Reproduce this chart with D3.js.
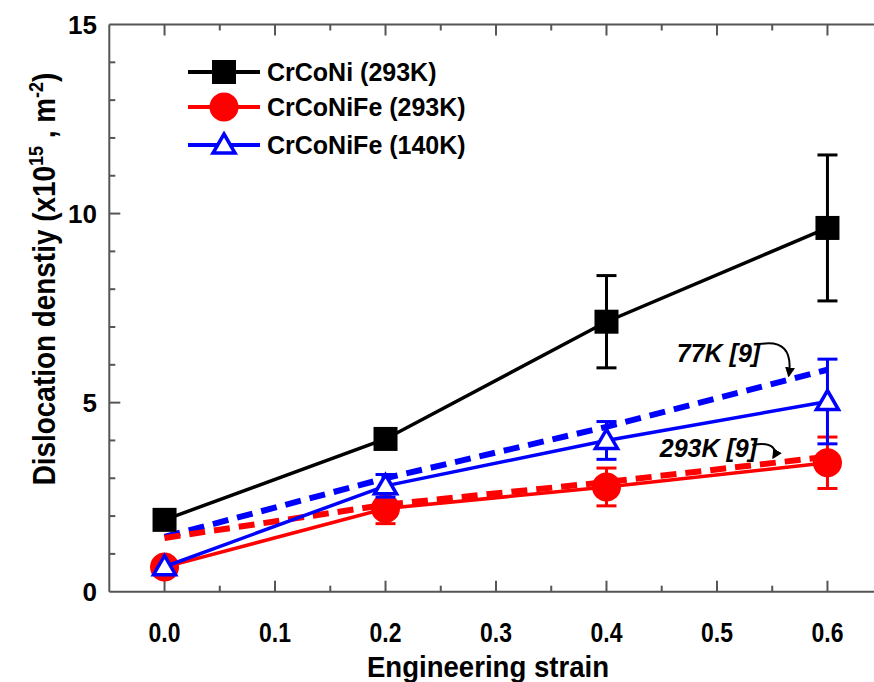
<!DOCTYPE html>
<html>
<head>
<meta charset="utf-8">
<script src="https://cdn.jsdelivr.net/npm/d3@7"></script>
<style>
  body { margin: 0; background: #fff; }
  text { font-family: "Liberation Sans", Arial, sans-serif; font-weight: bold; }
</style>
</head>
<body>
<svg id="chart"></svg>
<script>
// strain levels
const strains = [0.0, 0.2, 0.4, 0.6];

// measured dislocation density (x10^15 m^-2) with error bars
const crconi293 = [1.9, 4.04, 7.14, 9.62];
const crconi293Err = [0, 0, 1.22, 1.93];
const crconife293 = [0.65, 2.2, 2.77, 3.41];
const crconife293Err = [0, 0.4, 0.5, 0.68];
const crconife140 = [0.66, 2.8, 4.0, 5.03];
const crconife140Err = [0, 0.3, 0.5, 1.12];

// literature curves [9]
const ref77K = [1.45, 3.0, 4.36, 5.87];
const ref293K = [1.42, 2.3, 2.9, 3.57];

const xTicks = [0, 0.1, 0.2, 0.3, 0.4, 0.5, 0.6];
const yTicks = [0, 5, 10, 15];

const legendLabels = ["CrCoNi (293K)", "CrCoNiFe (293K)", "CrCoNiFe (140K)"];

let config = {
    width: 874,
    height: 682,
    left: 109.3, right: 882.7, top: 24.5, bottom: 591.7
};

let svg = d3.select('#chart')
    .attr('width', config.width)
    .attr('height', config.height);

let xScale = d3.scaleLinear().domain([-0.05, 0.65]).range([config.left, config.right]);
let yScale = d3.scaleLinear().domain([0, 15]).range([config.bottom, config.top]);

const axisColor = '#555';

// frame + ticks (all pointing inward)
let axes = svg.append('g');
axes.append('line').attr('x1', config.left).attr('x2', config.right)
    .attr('y1', config.bottom).attr('y2', config.bottom)
    .attr('stroke', axisColor).attr('stroke-width', 2);
axes.append('line').attr('x1', config.left).attr('x2', config.right)
    .attr('y1', config.top).attr('y2', config.top)
    .attr('stroke', axisColor).attr('stroke-width', 2);
axes.append('line').attr('x1', config.left).attr('x2', config.left)
    .attr('y1', config.top).attr('y2', config.bottom)
    .attr('stroke', axisColor).attr('stroke-width', 2);

let xMinor = d3.range(0, 14).map(i => -0.05 + i * 0.05).filter(v => v > -0.04);
xMinor.forEach(v => {
    let major = Math.abs(v * 10 - Math.round(v * 10)) < 1e-6;
    let len = major ? 11 : 6;
    axes.append('line').attr('x1', xScale(v)).attr('x2', xScale(v))
        .attr('y1', config.bottom).attr('y2', config.bottom - len)
        .attr('stroke', axisColor).attr('stroke-width', 2);
    axes.append('line').attr('x1', xScale(v)).attr('x2', xScale(v))
        .attr('y1', config.top).attr('y2', config.top + len)
        .attr('stroke', axisColor).attr('stroke-width', 2);
});
d3.range(1, 15).forEach(v => {
    let len = v % 5 === 0 ? 11 : 6;
    axes.append('line').attr('x1', config.left).attr('x2', config.left + len)
        .attr('y1', yScale(v)).attr('y2', yScale(v))
        .attr('stroke', axisColor).attr('stroke-width', 2);
});

// tick labels (x labels are a bit condensed in the original)
svg.append('g').selectAll('text').data(xTicks).join('text')
    .attr('transform', d => `translate(${xScale(d)},642) scale(0.82,1)`)
    .attr('text-anchor', 'middle')
    .attr('font-size', 28)
    .text(d => d.toFixed(1));
svg.append('g').selectAll('text').data(yTicks).join('text')
    .attr('x', 97)
    .attr('y', d => yScale(d) + 9)
    .attr('text-anchor', 'end')
    .attr('font-size', 26)
    .text(d => d);

// axis titles
svg.append('text')
    .attr('transform', 'translate(488,677) scale(0.92,1)')
    .attr('text-anchor', 'middle')
    .attr('font-size', 30)
    .text('Engineering strain');

let yTitle = svg.append('text')
    .attr('transform', 'translate(55,279) rotate(-90) scale(0.9,1)')
    .attr('text-anchor', 'middle')
    .attr('font-size', 31);
yTitle.append('tspan').text('Dislocation denstiy (x10');
yTitle.append('tspan').attr('dy', -12).attr('font-size', 20).text('15');
yTitle.append('tspan').attr('dy', 12).text(' , m');
yTitle.append('tspan').attr('dy', -12).attr('font-size', 20).text('-2');
yTitle.append('tspan').attr('dy', 12).text(')');

// dashed literature lines
const line = d3.line().x(d => xScale(d[0])).y(d => yScale(d[1]));
svg.append('path')
    .attr('d', line(strains.map((s, i) => [s, ref77K[i]])))
    .attr('fill', 'none').attr('stroke', '#0000ff')
    .attr('stroke-width', 6).attr('stroke-dasharray', '16,9');
svg.append('path')
    .attr('d', line(strains.map((s, i) => [s, ref293K[i]])))
    .attr('fill', 'none').attr('stroke', '#ff0000')
    .attr('stroke-width', 6).attr('stroke-dasharray', '16,9');

// series
const series = [
    {name: legendLabels[0], vals: crconi293, err: crconi293Err, color: '#000000', marker: 'square'},
    {name: legendLabels[1], vals: crconife293, err: crconife293Err, color: '#ff0000', marker: 'circle'},
    {name: legendLabels[2], vals: crconife140, err: crconife140Err, color: '#0000ff', marker: 'triangle'}
];

function drawMarker(g, type, color, x, y) {
    if (type === 'square') {
        g.append('rect').attr('x', x - 12).attr('y', y - 12)
            .attr('width', 24).attr('height', 24).attr('fill', color);
    } else if (type === 'circle') {
        g.append('circle').attr('cx', x).attr('cy', y).attr('r', 14.5).attr('fill', color);
    } else {
        g.append('path')
            .attr('d', `M${x},${y - 11} L${x + 11},${y + 8} L${x - 11},${y + 8} Z`)
            .attr('fill', '#fff').attr('stroke', color).attr('stroke-width', 3.5)
            .attr('stroke-linejoin', 'miter');
    }
}

series.forEach(s => {
    let g = svg.append('g');
    let pts = strains.map((x, i) => [x, s.vals[i]]);
    g.append('path').attr('d', line(pts))
        .attr('fill', 'none').attr('stroke', s.color).attr('stroke-width', 3.5);
    pts.forEach((p, i) => {
        let e = s.err[i];
        if (e > 0) {
            let cx = xScale(p[0]);
            let y1 = yScale(p[1] + e), y2 = yScale(p[1] - e);
            g.append('line').attr('x1', cx).attr('x2', cx).attr('y1', y1).attr('y2', y2)
                .attr('stroke', s.color).attr('stroke-width', 3);
            [y1, y2].forEach(yy => g.append('line')
                .attr('x1', cx - 10).attr('x2', cx + 10).attr('y1', yy).attr('y2', yy)
                .attr('stroke', s.color).attr('stroke-width', 3));
        }
        drawMarker(g, s.marker, s.color, xScale(p[0]), yScale(p[1]));
    });
});

// legend
let legend = svg.append('g');
const legendRows = [72, 107, 145];
series.forEach((s, i) => {
    let y = legendRows[i];
    legend.append('line').attr('x1', 188).attr('x2', 260).attr('y1', y).attr('y2', y)
        .attr('stroke', s.color).attr('stroke-width', 4);
    drawMarker(legend, s.marker, s.color, 224, y);
    legend.append('text').attr('x', 267).attr('y', y + 9)
        .attr('font-size', 25).text(s.name);
});

// annotations for reference curves
const annotations = [
    {label: '77K [9]', tx: 0.4636, ty: 6.08, from: [0.539, 6.55], to: [0.565, 5.72]},
    {label: '293K [9]', tx: 0.4482, ty: 3.55, from: [0.532, 3.88], to: [0.551, 3.55]}
];
svg.append('defs').append('marker')
    .attr('id', 'arrow').attr('viewBox', '0 0 10 10')
    .attr('refX', 8).attr('refY', 5)
    .attr('markerWidth', 5).attr('markerHeight', 5)
    .attr('orient', 'auto')
    .append('path').attr('d', 'M0,0 L10,5 L0,10 Z').attr('fill', '#000');

annotations.forEach(a => {
    svg.append('text')
        .attr('x', xScale(a.tx)).attr('y', yScale(a.ty))
        .attr('font-size', 25).attr('font-style', 'italic')
        .text(a.label);
    let x0 = xScale(a.from[0]), y0 = yScale(a.from[1]);
    let x1 = xScale(a.to[0]), y1 = yScale(a.to[1]);
    svg.append('path')
        .attr('d', `M${x0},${y0} C${x0 + 22},${y0 - 4} ${x1 + 4},${y0 + 6} ${x1},${y1}`)
        .attr('fill', 'none').attr('stroke', '#000').attr('stroke-width', 2)
        .attr('marker-end', 'url(#arrow)');
});
</script>
</body>
</html>
